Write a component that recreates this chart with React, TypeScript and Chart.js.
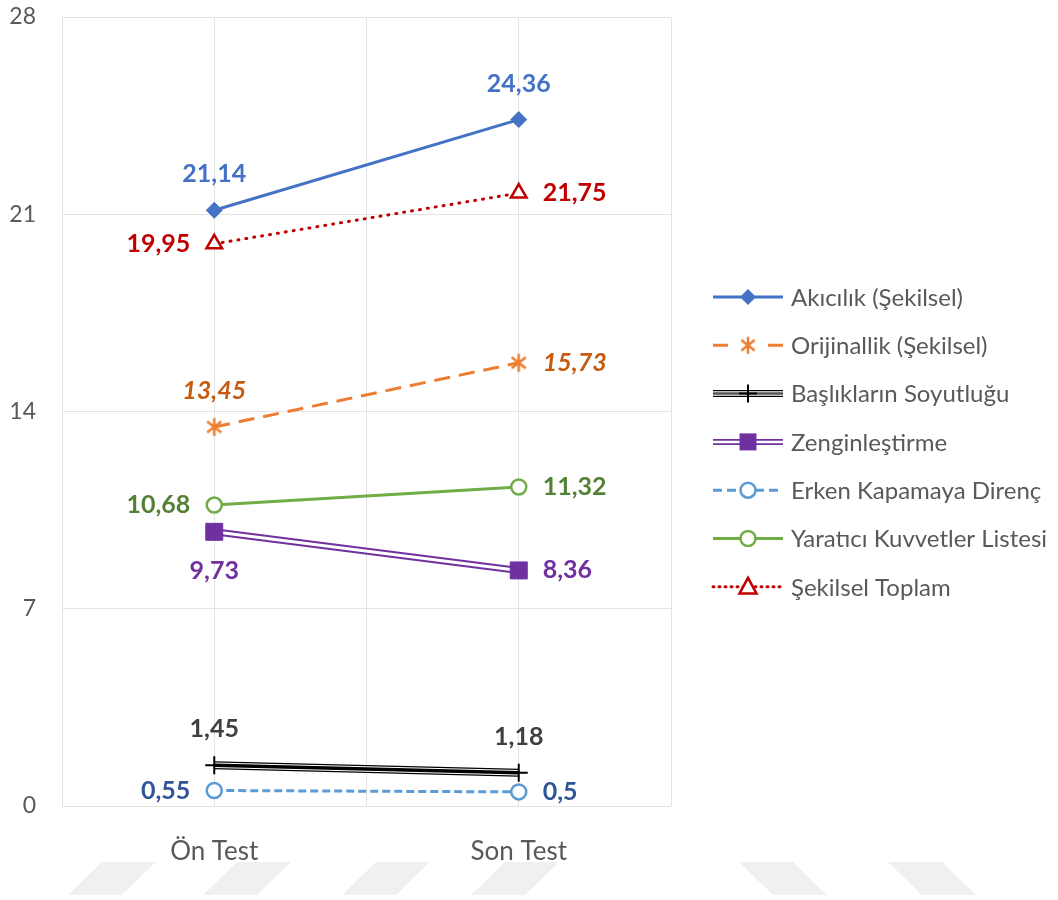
import React, { useEffect, useRef } from 'react';
import { Chart, registerables } from 'chart.js';

Chart.register(...registerables);

// ---------- Data ----------
const categories = ['Ön Test', 'Son Test'];
const seriesNames = [
  'Akıcılık (Şekilsel)',
  'Orijinallik (Şekilsel)',
  'Başlıkların Soyutluğu',
  'Zenginleştirme',
  'Erken Kapamaya Direnç',
  'Yaratıcı Kuvvetler Listesi',
  'Şekilsel Toplam',
];
const akicilik = [21.14, 24.36];
const orijinallik = [13.45, 15.73];
const basliklarinSoyutlugu = [1.45, 1.18];
const zenginlestirme = [9.73, 8.36];
const erkenKapamayaDirenc = [0.55, 0.5];
const yaraticiKuvvetler = [10.68, 11.32];
const sekilselToplam = [19.95, 21.75];
const yTicks = [0, 7, 14, 21, 28];
const xGridTicks = [-0.5, 0, 0.5, 1, 1.5];

// ---------- Styles ----------
const FONT = "Lato, 'Open Sans', sans-serif";
const TEXT_GRAY = '#595959';
const GRID = '#e3e3e3';

const C_BLUE = '#4472C4';
const C_ORANGE = '#ED7D31';
const C_PURPLE = '#7030A0';
const C_LBLUE = '#5B9BD5';
const C_GREEN = '#70AD47';
const C_RED = '#C00000';

// label colours / placement per series (index matches seriesNames)
const labelColors = ['#4472C4', '#C55A11', '#404040', '#7030A0', '#2F5597', '#548235', '#C00000'];
const labelItalic = [false, true, false, false, false, false, false];
const labelPlacement = [
  ['above', 'above'],
  ['above', 'right'],
  ['above', 'above'],
  ['below', 'right'],
  ['left', 'right'],
  ['left', 'right'],
  ['left', 'right'],
];

function makeAsterisk(color: string, size: number, lw: number) {
  const c = document.createElement('canvas');
  c.width = size;
  c.height = size;
  const g = c.getContext('2d')!;
  g.strokeStyle = color;
  g.lineWidth = lw;
  const m = size / 2;
  const r = size / 2 - 1.5;
  g.beginPath();
  g.moveTo(m, m - r);
  g.lineTo(m, m + r);
  const a = (52 * Math.PI) / 180;
  const dx = Math.sin(a) * r;
  const dy = Math.cos(a) * r;
  g.moveTo(m - dx, m - dy);
  g.lineTo(m + dx, m + dy);
  g.moveTo(m + dx, m - dy);
  g.lineTo(m - dx, m + dy);
  g.stroke();
  return c;
}

const fmt = (v: number) => String(v).replace('.', ',');
const pts = (vals: number[]) => vals.map((v, i) => ({ x: i, y: v }));

function drawMarker(ctx: CanvasRenderingContext2D, kind: string, x: number, y: number, r: number, fill: string, stroke: string, lw: number, img?: HTMLCanvasElement) {
  ctx.save();
  ctx.setLineDash([]);
  ctx.lineWidth = lw;
  ctx.strokeStyle = stroke;
  ctx.fillStyle = fill;
  ctx.beginPath();
  if (kind === 'diamond') {
    ctx.moveTo(x, y - r);
    ctx.lineTo(x + r, y);
    ctx.lineTo(x, y + r);
    ctx.lineTo(x - r, y);
    ctx.closePath();
    ctx.fill();
  } else if (kind === 'square') {
    ctx.rect(x - r, y - r, 2 * r, 2 * r);
    ctx.fill();
  } else if (kind === 'circle') {
    ctx.arc(x, y, r, 0, Math.PI * 2);
    ctx.fill();
    ctx.stroke();
  } else if (kind === 'triangle') {
    ctx.moveTo(x, y - r);
    ctx.lineTo(x + r * 0.95, y + r * 0.75);
    ctx.lineTo(x - r * 0.95, y + r * 0.75);
    ctx.closePath();
    ctx.fill();
    ctx.stroke();
  } else if (kind === 'cross') {
    ctx.moveTo(x - r, y);
    ctx.lineTo(x + r, y);
    ctx.moveTo(x, y - r);
    ctx.lineTo(x, y + r);
    ctx.stroke();
  } else if (kind === 'img' && img) {
    ctx.drawImage(img, x - img.width / 2, y - img.height / 2);
  }
  ctx.restore();
}

export default function App() {
  const ref = useRef<HTMLCanvasElement>(null);

  useEffect(() => {
    if (!ref.current) return;
    const asterisk = makeAsterisk(C_ORANGE, 21, 2.5);
    const asteriskLegend = makeAsterisk(C_ORANGE, 20, 2.5);

    const base = {
      tension: 0,
      pointHoverRadius: 0,
    };

    const datasets: any[] = [
      { ...base, label: seriesNames[0], data: pts(akicilik), borderColor: C_BLUE, borderWidth: 3, pointStyle: 'rectRot', pointRadius: 8, pointBackgroundColor: C_BLUE, pointBorderColor: C_BLUE, pointBorderWidth: 1, order: 1 },
      { ...base, label: seriesNames[1], data: pts(orijinallik), borderColor: C_ORANGE, borderWidth: 3, borderDash: [16, 9], pointStyle: asterisk, pointRadius: 10, order: 1 },
      { ...base, label: seriesNames[2], data: pts(basliklarinSoyutlugu), borderColor: '#000000', borderWidth: 8, pointRadius: 0, order: 6 },
      { ...base, label: seriesNames[2], data: pts(basliklarinSoyutlugu), borderColor: '#ffffff', borderWidth: 5.5, pointRadius: 0, order: 5 },
      { ...base, label: seriesNames[2], data: pts(basliklarinSoyutlugu), borderColor: '#000000', borderWidth: 3.5, pointStyle: 'cross', pointRadius: 9, pointBorderColor: '#000000', pointBorderWidth: 2, order: 4 },
      { ...base, label: seriesNames[3], data: pts(zenginlestirme), borderColor: C_PURPLE, borderWidth: 7, pointRadius: 0, order: 6 },
      { ...base, label: seriesNames[3], data: pts(zenginlestirme), borderColor: '#ffffff', borderWidth: 3, pointStyle: 'rect', pointRadius: 12, pointBackgroundColor: C_PURPLE, pointBorderColor: C_PURPLE, pointBorderWidth: 1, order: 4 },
      { ...base, label: seriesNames[4], data: pts(erkenKapamayaDirenc), borderColor: C_LBLUE, borderWidth: 3, borderDash: [8, 4], pointStyle: 'circle', pointRadius: 7.5, pointBackgroundColor: '#ffffff', pointBorderColor: C_LBLUE, pointBorderWidth: 2.5, order: 1 },
      { ...base, label: seriesNames[5], data: pts(yaraticiKuvvetler), borderColor: C_GREEN, borderWidth: 3, pointStyle: 'circle', pointRadius: 7.5, pointBackgroundColor: '#ffffff', pointBorderColor: C_GREEN, pointBorderWidth: 2.5, order: 1 },
      { ...base, label: seriesNames[6], data: pts(sekilselToplam), borderColor: C_RED, borderWidth: 3, borderDash: [1, 7], borderCapStyle: 'round', pointStyle: 'triangle', pointRadius: 9, pointBackgroundColor: '#ffffff', pointBorderColor: C_RED, pointBorderWidth: 2.5, order: 1 },
    ];
    // dataset index carrying markers for each series
    const markerDataset = [0, 1, 4, 6, 7, 8, 9];

    const watermarkPlugin = {
      id: 'watermark',
      beforeDraw(chart: any) {
        const ctx = chart.ctx;
        ctx.save();
        ctx.fillStyle = '#f0f0f0';
        const top = 862, bot = 895, w = 54, s = 34;
        [68, 203, 342, 471].forEach((bx) => {
          ctx.beginPath();
          ctx.moveTo(bx, bot);
          ctx.lineTo(bx + s, top);
          ctx.lineTo(bx + s + w, top);
          ctx.lineTo(bx + w, bot);
          ctx.closePath();
          ctx.fill();
        });
        [739, 888].forEach((tx) => {
          ctx.beginPath();
          ctx.moveTo(tx, top);
          ctx.lineTo(tx + w, top);
          ctx.lineTo(tx + w + s, bot);
          ctx.lineTo(tx + s, bot);
          ctx.closePath();
          ctx.fill();
        });
        ctx.restore();
      },
    };

    const labelsPlugin = {
      id: 'valueLabels',
      afterDatasetsDraw(chart: any) {
        const ctx = chart.ctx;
        ctx.save();
        const values = [akicilik, orijinallik, basliklarinSoyutlugu, zenginlestirme, erkenKapamayaDirenc, yaraticiKuvvetler, sekilselToplam];
        values.forEach((vals, si) => {
          const meta = chart.getDatasetMeta(markerDataset[si]);
          vals.forEach((v, i) => {
            const el = meta.data[i];
            if (!el) return;
            const pos = labelPlacement[si][i];
            ctx.font = `${labelItalic[si] ? 'italic ' : ''}bold 25px ${FONT}`;
            ctx.fillStyle = labelColors[si];
            ctx.textBaseline = 'middle';
            let x = el.x, y = el.y;
            if (pos === 'above') { ctx.textAlign = 'center'; y -= 36; }
            else if (pos === 'below') { ctx.textAlign = 'center'; y += 39; }
            else if (pos === 'left') { ctx.textAlign = 'right'; x -= 24; }
            else { ctx.textAlign = 'left'; x += 24; }
            ctx.fillText(fmt(v), x, y);
          });
        });
        ctx.restore();
      },
    };

    const legendPlugin = {
      id: 'customLegend',
      afterDraw(chart: any) {
        const ctx = chart.ctx as CanvasRenderingContext2D;
        const x0 = chart.chartArea.right + 42;
        const x1 = x0 + 70;
        const mx = (x0 + x1) / 2;
        const tx = x1 + 8;
        const y0 = 297;
        const dy = 48.3;
        const line = (y: number, color: string, w: number, dash: number[] = [], cap: CanvasLineCap = 'butt') => {
          ctx.save();
          ctx.strokeStyle = color;
          ctx.lineWidth = w;
          ctx.setLineDash(dash);
          ctx.lineCap = cap;
          ctx.beginPath();
          ctx.moveTo(x0, y);
          ctx.lineTo(x1, y);
          ctx.stroke();
          ctx.restore();
        };
        seriesNames.forEach((name, i) => {
          const y = y0 + i * dy;
          switch (i) {
            case 0:
              line(y, C_BLUE, 3);
              drawMarker(ctx, 'diamond', mx, y, 8, C_BLUE, C_BLUE, 1);
              break;
            case 1:
              line(y, C_ORANGE, 3, [15, 40]);
              drawMarker(ctx, 'img', mx, y, 9, C_ORANGE, C_ORANGE, 2, asteriskLegend);
              break;
            case 2:
              line(y, '#000000', 7);
              line(y, '#ffffff', 4.5);
              line(y, '#555555', 2.5);
              drawMarker(ctx, 'cross', mx, y, 9, '#000', '#000', 2);
              break;
            case 3:
              line(y, C_PURPLE, 6);
              line(y, '#ffffff', 2.5);
              drawMarker(ctx, 'square', mx, y, 8.5, C_PURPLE, C_PURPLE, 1);
              break;
            case 4:
              line(y, C_LBLUE, 3, [9, 5]);
              drawMarker(ctx, 'circle', mx, y, 7.5, '#ffffff', C_LBLUE, 2.5);
              break;
            case 5:
              line(y, C_GREEN, 3);
              drawMarker(ctx, 'circle', mx, y, 7.5, '#ffffff', C_GREEN, 2.5);
              break;
            case 6:
              line(y, C_RED, 3, [1, 5], 'round');
              drawMarker(ctx, 'triangle', mx, y, 9, '#ffffff', C_RED, 2.5);
              break;
          }
          ctx.save();
          ctx.font = `24px ${FONT}`;
          ctx.fillStyle = TEXT_GRAY;
          ctx.textAlign = 'left';
          ctx.textBaseline = 'middle';
          ctx.fillText(name, tx, y + 1);
          ctx.restore();
        });
      },
    };

    const chart = new Chart(ref.current, {
      type: 'line',
      data: { datasets },
      options: {
        animation: false,
        responsive: false,
        layout: { padding: { top: 17, right: 387, left: 0, bottom: 0 } },
        plugins: {
          legend: { display: false },
          tooltip: { enabled: false },
        },
        events: [],
        scales: {
          x: {
            type: 'linear',
            min: -0.5,
            max: 1.5,
            afterBuildTicks: (s: any) => {
              s.ticks = xGridTicks.map((v) => ({ value: v }));
            },
            ticks: {
              autoSkip: false,
              maxRotation: 0,
              padding: 30,
              color: TEXT_GRAY,
              font: { family: FONT, size: 26 },
              callback: (v: any) => (Number.isInteger(v) ? categories[v] : ''),
            },
            grid: { color: GRID, lineWidth: 1, drawTicks: false },
            border: { display: false },
            afterFit: (s: any) => {
              s.height = 94;
              s.paddingLeft = 0;
              s.paddingRight = 0;
            },
          },
          y: {
            min: 0,
            max: 28,
            afterBuildTicks: (s: any) => {
              s.ticks = yTicks.map((v) => ({ value: v }));
            },
            ticks: {
              padding: 26,
              color: TEXT_GRAY,
              font: { family: FONT, size: 23 },
            },
            grid: { color: GRID, lineWidth: 1, drawTicks: false },
            border: { display: false },
            afterFit: (s: any) => {
              s.width = 62;
              s.paddingTop = 0;
              s.paddingBottom = 0;
            },
          },
        },
      },
      plugins: [watermarkPlugin, labelsPlugin, legendPlugin],
    } as any);

    return () => chart.destroy();
  }, []);

  return (
    <div style={{ position: 'absolute', left: 0, top: 0, width: 1058, height: 900, background: '#ffffff' }}>
      <canvas ref={ref} width={1058} height={900} style={{ display: 'block' }} />
    </div>
  );
}
